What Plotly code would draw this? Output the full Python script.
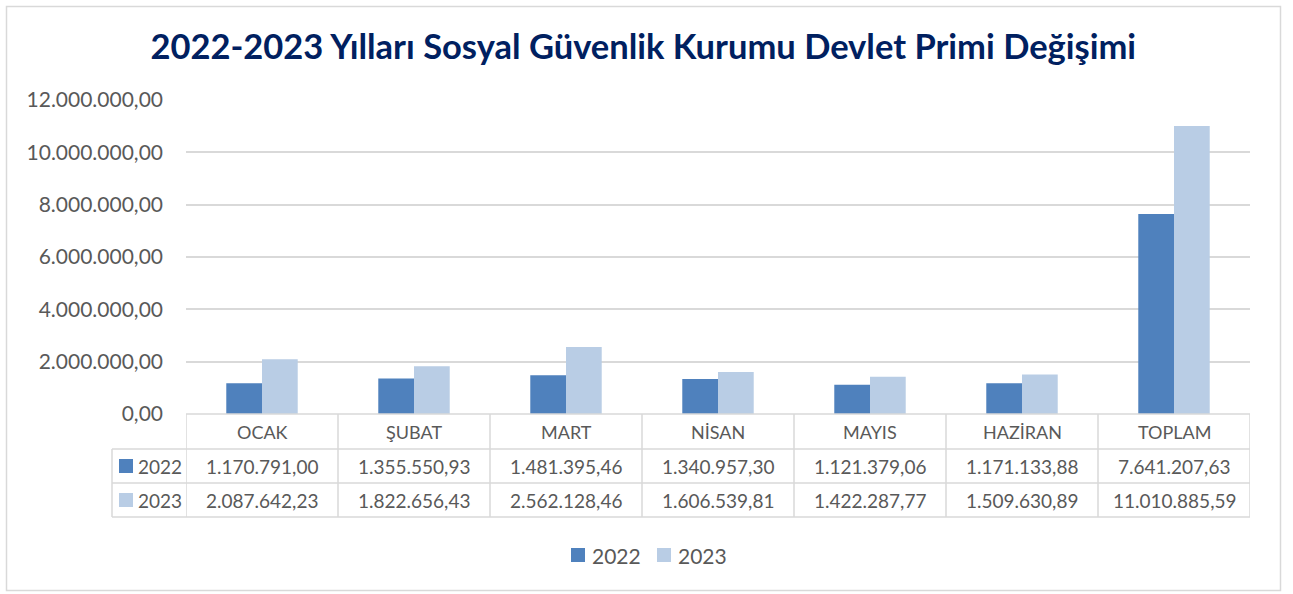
import plotly.graph_objects as go

categories = ["OCAK", "ŞUBAT", "MART", "NİSAN", "MAYIS", "HAZİRAN", "TOPLAM"]
series_names = ["2022", "2023"]
values_2022 = [1170791.00, 1355550.93, 1481395.46, 1340957.30, 1121379.06, 1171133.88, 7641207.63]
values_2023 = [2087642.23, 1822656.43, 2562128.46, 1606539.81, 1422287.77, 1509630.89, 11010885.59]
y_ticks = [0, 2000000, 4000000, 6000000, 8000000, 10000000, 12000000]

colors = ["#4F81BD", "#B9CDE5"]
W, H = 1293, 594
FONT = "Lato"
GRAY = "#595959"
LINE = "#D9D9D9"

def px(x):
    return x / W

def py(y):
    return 1 - y / H

def tr(v):
    s = f"{v:,.2f}"
    return s.replace(",", "X").replace(".", ",").replace("X", ".")

fig = go.Figure()
for name, vals, c in zip(series_names, [values_2022, values_2023], colors):
    fig.add_trace(go.Bar(x=list(range(len(categories))), y=vals, name=name,
                         marker=dict(color=c, line=dict(width=0))))

x0p, x1p = 186, 1250
y_axis_px, y_top_px = 414, 100
fig.update_layout(
    width=W, height=H,
    autosize=False,
    margin=dict(l=0, r=0, t=0, b=0, pad=0, autoexpand=False),
    paper_bgcolor="white", plot_bgcolor="white",
    separators=",.",
    barmode="group", bargap=0.53, bargroupgap=0,
    font=dict(family=FONT, color=GRAY, size=18),
    title=dict(text="<b>2022-2023 Yılları Sosyal Güvenlik Kurumu Devlet Primi Değişimi</b>",
               x=0.4975, xanchor="center", y=py(47), yanchor="middle", automargin=False,
               font=dict(family=FONT, size=34.5, color="#002060")),
    xaxis=dict(domain=[px(x0p), px(x1p)], range=[-0.5, len(categories) - 0.5], automargin=False,
               showticklabels=False, showgrid=False, zeroline=False, fixedrange=True),
    yaxis=dict(domain=[py(y_axis_px), py(y_top_px)], range=[0, 12000000], automargin=False,
               tickvals=y_ticks, tickformat=",.2f", showgrid=True, gridcolor=LINE, gridwidth=1.5,
               zeroline=False, ticks="", ticklabelstandoff=22,
               tickfont=dict(size=21, color=GRAY)),
    showlegend=False,
)

shapes = []
# outer chart border
shapes.append(dict(type="rect", xref="paper", yref="paper", x0=px(6.5), x1=px(1280.5),
                   y0=py(590.5), y1=py(6.5), line=dict(color=LINE, width=1.5)))
# table lines
row_y = [414, 449, 483, 517]
left_x = 112
shapes.append(dict(type="line", xref="paper", yref="paper", x0=px(x0p), x1=px(x1p),
                   y0=py(row_y[0]), y1=py(row_y[0]), line=dict(color=LINE, width=1.5)))
for yy in row_y[1:]:
    shapes.append(dict(type="line", xref="paper", yref="paper", x0=px(left_x), x1=px(x1p),
                       y0=py(yy), y1=py(yy), line=dict(color=LINE, width=1.5)))
n = len(categories)
for i in range(n + 1):
    xv = -0.5 + i
    shapes.append(dict(type="line", xref="x", yref="paper", x0=xv, x1=xv,
                       y0=py(row_y[0]), y1=py(row_y[-1]), line=dict(color=LINE, width=1.5)))
shapes.append(dict(type="line", xref="paper", yref="paper", x0=px(left_x), x1=px(left_x),
                   y0=py(row_y[1]), y1=py(row_y[-1]), line=dict(color=LINE, width=1.5)))

annotations = []
row_centers = [(row_y[k] + row_y[k + 1]) / 2 for k in range(3)]
for i, c in enumerate(categories):
    annotations.append(dict(x=i, y=py(row_centers[0]), xref="x", yref="paper", text=c,
                            xanchor="center", yanchor="middle",
                            showarrow=False, font=dict(size=18, color=GRAY)))
for r, (name, vals, col) in enumerate(zip(series_names, [values_2022, values_2023], colors)):
    yc = row_centers[r + 1]
    for i, v in enumerate(vals):
        annotations.append(dict(x=i, y=py(yc), xref="x", yref="paper", text=tr(v),
                                xanchor="center", yanchor="middle",
                                showarrow=False, font=dict(size=19, color=GRAY)))
    shapes.append(dict(type="rect", xref="paper", yref="paper", x0=px(119), x1=px(133),
                       y0=py(yc + 7), y1=py(yc - 7), fillcolor=col, line=dict(width=0)))
    annotations.append(dict(x=px(136), y=py(yc), xref="paper", yref="paper", text=name,
                            xanchor="left", yanchor="middle",
                            showarrow=False, font=dict(size=19, color=GRAY)))

# legend (drawn manually to match spacing)
legend_sq_x = [571, 657]
legend_y = 555
for name, col, lx in zip(series_names, colors, legend_sq_x):
    shapes.append(dict(type="rect", xref="paper", yref="paper", x0=px(lx), x1=px(lx + 14),
                       y0=py(legend_y + 7), y1=py(legend_y - 7), fillcolor=col, line=dict(width=0)))
    annotations.append(dict(x=px(lx + 19), y=py(legend_y), xref="paper", yref="paper", text=name,
                            xanchor="left", yanchor="middle",
                            showarrow=False, font=dict(size=21, color=GRAY)))

fig.update_layout(shapes=shapes, annotations=annotations)
fig.write_html("out.html", config={"displayModeBar": False},
               post_script="document.body.style.margin='0px';document.body.style.overflow='hidden';")
